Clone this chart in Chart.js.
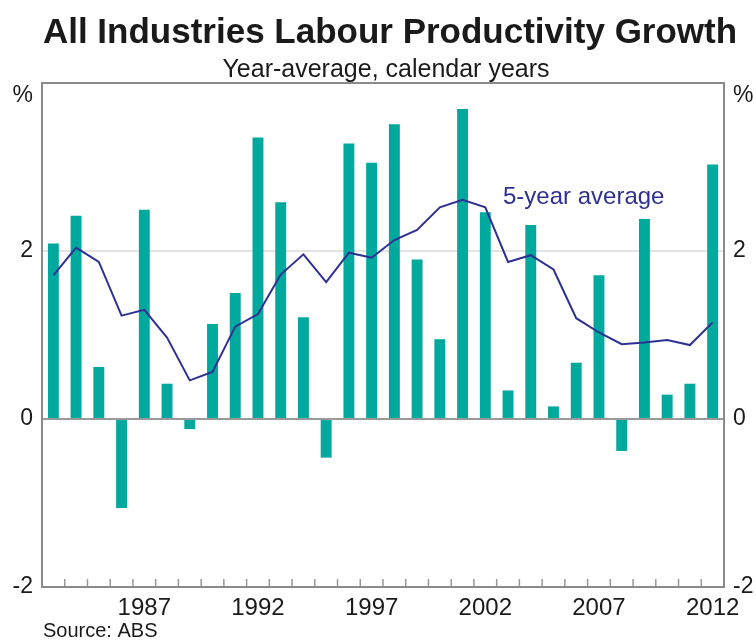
<!DOCTYPE html>
<html>
<head>
<meta charset="utf-8">
<script src="https://cdn.jsdelivr.net/npm/chart.js@4/dist/chart.umd.min.js"></script>
<style>
  body { margin: 0; background: #fff; }
</style>
</head>
<body>
<canvas id="chart" width="756" height="641"></canvas>
<script>
// Chart data
const years = [1983, 1984, 1985, 1986, 1987, 1988, 1989, 1990, 1991, 1992,
  1993, 1994, 1995, 1996, 1997, 1998, 1999, 2000, 2001, 2002,
  2003, 2004, 2005, 2006, 2007, 2008, 2009, 2010, 2011, 2012];
const growth = [2.09, 2.42, 0.62, -1.06, 2.49, 0.42, -0.12, 1.13, 1.50, 3.35,
  2.58, 1.21, -0.46, 3.28, 3.05, 3.51, 1.90, 0.95, 3.69, 2.46,
  0.34, 2.31, 0.15, 0.67, 1.71, -0.38, 2.38, 0.29, 0.42, 3.03];
const fiveYearAvg = [1.71, 2.04, 1.87, 1.23, 1.30, 0.97, 0.46, 0.56, 1.10, 1.25,
  1.72, 1.96, 1.63, 1.98, 1.92, 2.13, 2.25, 2.52, 2.61, 2.52,
  1.87, 1.95, 1.78, 1.20, 1.03, 0.89, 0.91, 0.94, 0.88, 1.15];
const yMin = -2, yMax = 4, yStep = 2;

const FONT = "'Liberation Sans', Arial, sans-serif";
const TEAL = "#00a99d";
const NAVY = "#2e3192";

// titles, frame, inner tick marks, labels
const decorations = {
  id: "decorations",
  afterDatasetsDraw(chart) {
    const { ctx, chartArea: a, scales } = chart;
    const x = scales.x;
    ctx.save();
    // inward tick marks between years
    ctx.strokeStyle = "#999";
    ctx.lineWidth = 1.5;
    for (let i = 1; i < years.length; i++) {
      const px = (x.getPixelForValue(i - 1) + x.getPixelForValue(i)) / 2;
      ctx.beginPath();
      ctx.moveTo(px, a.bottom);
      ctx.lineTo(px, a.bottom - 8);
      ctx.stroke();
    }
    // frame
    ctx.strokeStyle = "#8a8a8a";
    ctx.lineWidth = 2;
    ctx.strokeRect(a.left, a.top, a.right - a.left, a.bottom - a.top);
    ctx.restore();
  },
  afterDraw(chart) {
    const { ctx, chartArea: a } = chart;
    ctx.save();
    ctx.fillStyle = "#1a1a1a";
    ctx.textAlign = "center";
    ctx.textBaseline = "alphabetic";
    ctx.font = "bold 35px " + FONT;
    ctx.fillText("All Industries Labour Productivity Growth", 390, 43);
    ctx.font = "25px " + FONT;
    ctx.fillText("Year-average, calendar years", 386, 77);

    ctx.font = "23px " + FONT;
    ctx.textBaseline = "middle";
    ctx.textAlign = "right";
    ctx.fillText("%", a.left - 9, 96);
    ctx.textAlign = "left";
    ctx.fillText("%", a.right + 9, 96);

    ctx.font = "20px " + FONT;
    ctx.textBaseline = "alphabetic";
    ctx.fillText("Source: ABS", 43, 637);

    ctx.fillStyle = NAVY;
    ctx.font = "24px " + FONT;
    ctx.textBaseline = "middle";
    ctx.fillText("5-year average", 503, 197);
    ctx.restore();
  }
};

const yTickLabel = v => (v === yMax ? "" : v);

new Chart(document.getElementById("chart"), {
  data: {
    labels: years,
    datasets: [
      {
        type: "line",
        label: "5-year average",
        data: fiveYearAvg,
        borderColor: NAVY,
        borderWidth: 2,
        pointRadius: 0,
        tension: 0,
        order: 0
      },
      {
        type: "bar",
        label: "Labour productivity growth",
        data: growth,
        backgroundColor: TEAL,
        barPercentage: 0.48,
        categoryPercentage: 1,
        order: 1
      }
    ]
  },
  options: {
    responsive: false,
    animation: false,
    layout: { padding: { top: 83 } },
    plugins: { legend: { display: false }, tooltip: { enabled: false } },
    scales: {
      x: {
        offset: true,
        grid: { display: false, drawTicks: false },
        border: { display: false },
        ticks: {
          autoSkip: false,
          maxRotation: 0,
          padding: 7,
          color: "#1a1a1a",
          font: { family: FONT, size: 24 },
          callback: (v, i) => (years[i] % 5 === 2 ? years[i] : "")
        },
        afterFit: s => { s.height = 54; }
      },
      y: {
        position: "left",
        min: yMin, max: yMax,
        grid: {
          drawTicks: false,
          lineWidth: 2,
          color: c => c.tick.value === 0 ? "#999" : c.tick.value === 2 ? "#e3e3e3" : "rgba(0,0,0,0)"
        },
        border: { display: false },
        ticks: { stepSize: yStep, padding: 9, color: "#1a1a1a", font: { family: FONT, size: 23 }, callback: yTickLabel },
        afterFit: s => { s.width = 42; }
      },
      y2: {
        position: "right",
        min: yMin, max: yMax,
        grid: { display: false, drawTicks: false },
        border: { display: false },
        ticks: { stepSize: yStep, padding: 9, color: "#1a1a1a", font: { family: FONT, size: 23 }, callback: yTickLabel },
        afterFit: s => { s.width = 32; }
      }
    }
  },
  plugins: [decorations]
});
</script>
</body>
</html>
